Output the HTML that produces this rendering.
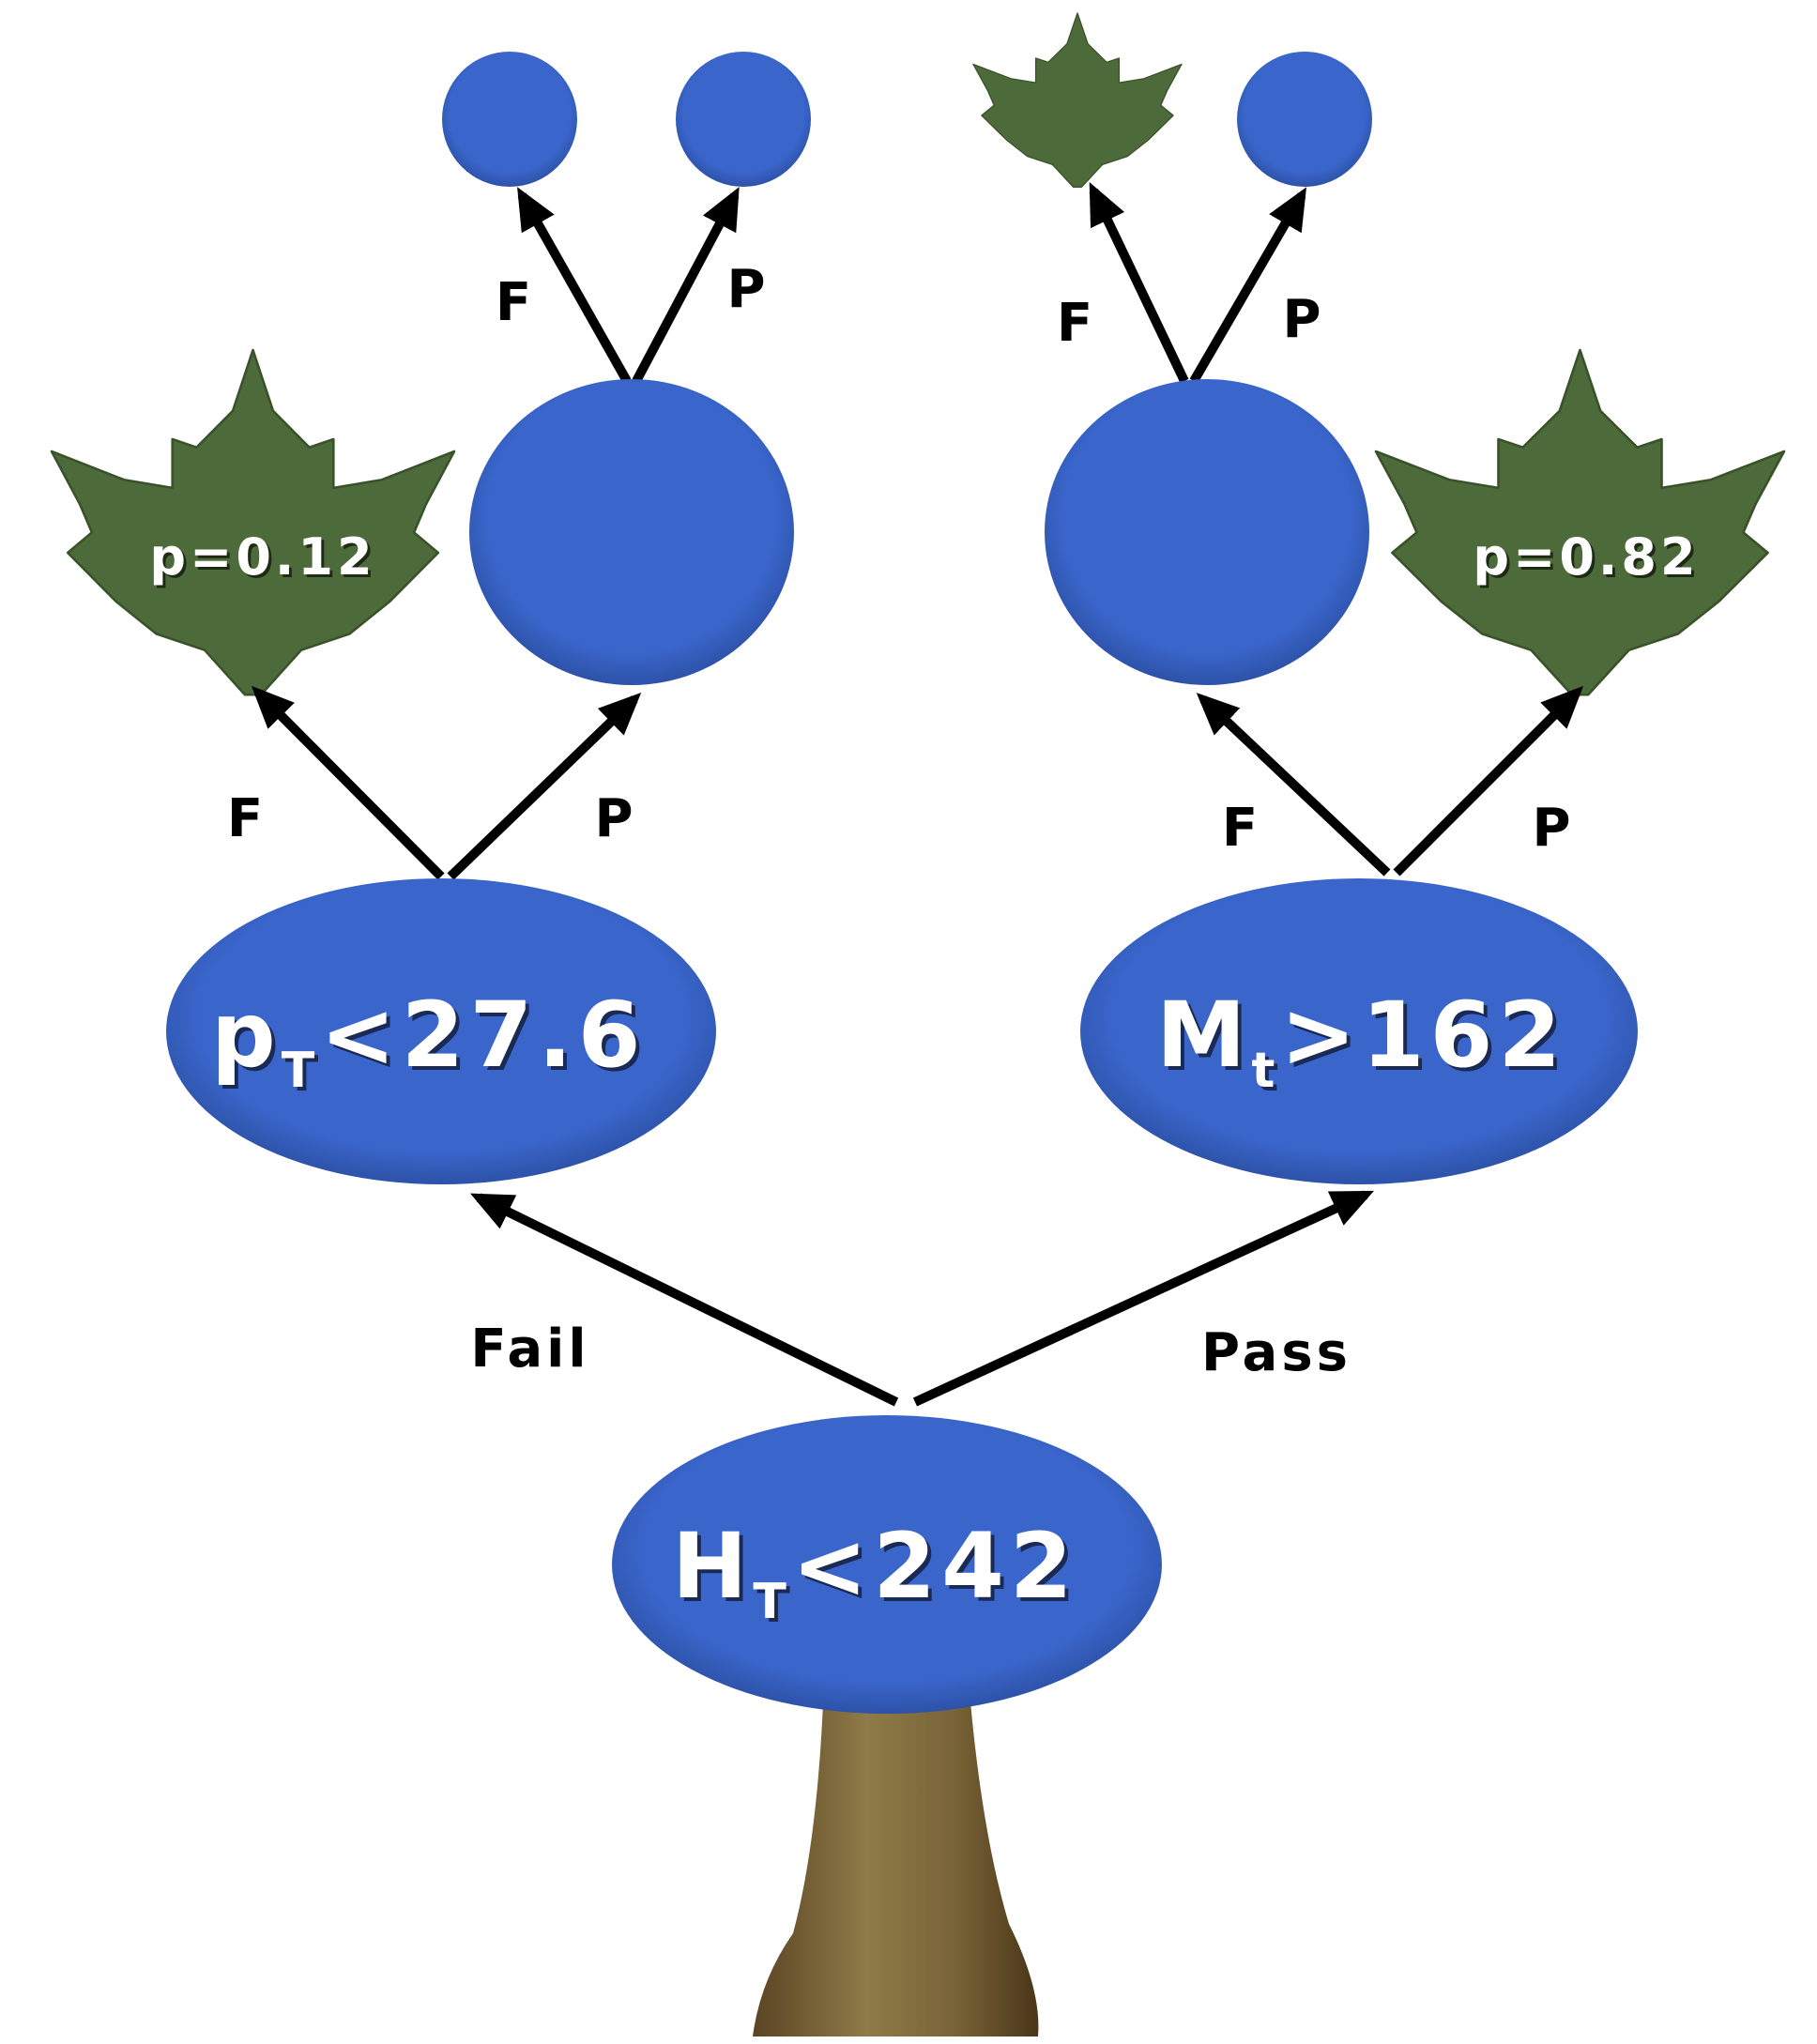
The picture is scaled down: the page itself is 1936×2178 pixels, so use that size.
<!DOCTYPE html>
<html><head><meta charset="utf-8"><style>
html,body{margin:0;padding:0;background:#fff;}
svg{display:block;}
text{font-family:"DejaVu Sans","Liberation Sans",sans-serif;font-weight:bold;}
.n{fill:#fff;letter-spacing:6px;}
.l{fill:#000;font-size:56px;letter-spacing:4px;}
</style></head><body>
<svg width="1936" height="2178" viewBox="0 0 1936 2178" xmlns="http://www.w3.org/2000/svg">
<defs>
<marker id="a" markerWidth="4.5" markerHeight="4" refX="3.5" refY="2" orient="auto" markerUnits="strokeWidth">
<path d="M0,0 L4.5,2 L0,4 z" fill="#000"/></marker>
<radialGradient id="b" cx="50%" cy="45%" r="55%"><stop offset="0.8" stop-color="#3a66cc"/><stop offset="1" stop-color="#2d52a8"/></radialGradient>
<linearGradient id="t" x1="0" x2="1"><stop offset="0" stop-color="#5a4423"/><stop offset="0.4" stop-color="#8f7a48"/><stop offset="0.7" stop-color="#7a6438"/><stop offset="1" stop-color="#4a3618"/></linearGradient>
<polygon id="leaf" points="50,0 55,15 64,24 70,22 70,34 82,32 100,25 93,38 90,45 96,50 84,62 74,70 62,74 52,85 48,85 38,74 26,70 16,62 4,50 10,45 7,38 0,25 18,32 30,34 30,22 36,24 45,15" fill="#4d6b3a" stroke="#3a5229" stroke-width="0.6" stroke-linejoin="round"/>
</defs>
<!-- trunk -->
<path d="M878,1790 L1032,1790 Q1045,1950 1075,2050 Q1110,2120 1106,2170 L802,2170 Q810,2110 845,2060 Q872,1960 878,1790 z" fill="url(#t)"/>
<!-- leaves -->
<use href="#leaf" transform="translate(55,373) scale(4.29,4.32)"/>
<use href="#leaf" transform="translate(1466,373) scale(4.35,4.32)"/>
<use href="#leaf" transform="translate(1037,14) scale(2.22,2.18)"/>
<!-- arrows -->
<g stroke="#000" stroke-width="10" fill="none" marker-end="url(#a)">
<line x1="955" y1="1494" x2="510" y2="1276"/>
<line x1="975" y1="1494" x2="1455" y2="1273"/>
<line x1="470" y1="934" x2="275" y2="738"/>
<line x1="480" y1="934" x2="676" y2="745"/>
<line x1="1478" y1="930" x2="1282" y2="745"/>
<line x1="1488" y1="930" x2="1680" y2="738"/>
<line x1="668" y1="406" x2="556" y2="208"/>
<line x1="678" y1="406" x2="783" y2="208"/>
<line x1="1262" y1="406" x2="1165" y2="203"/>
<line x1="1272" y1="406" x2="1387" y2="208"/>
</g>
<!-- nodes -->
<g fill="url(#b)">
<ellipse cx="945" cy="1667" rx="293" ry="159"/>
<ellipse cx="470" cy="1099" rx="293" ry="163"/>
<ellipse cx="1448" cy="1099" rx="297" ry="163"/>
<ellipse cx="673" cy="567" rx="173" ry="163"/>
<ellipse cx="1286" cy="567" rx="173" ry="163"/>
<circle cx="543" cy="127" r="72"/>
<circle cx="792" cy="127" r="72"/>
<circle cx="1390" cy="127" r="72"/>
</g>
<!-- node text -->
<g class="n" style="font-size:96px">
<text x="225" y="1136" fill="#1a2a55" transform="translate(4,4)">p<tspan font-size="52" dy="22">T</tspan><tspan dy="-22">&lt;27.6</tspan></text>
<text x="225" y="1136">p<tspan font-size="52" dy="22">T</tspan><tspan dy="-22">&lt;27.6</tspan></text>
<text x="1232" y="1136" fill="#1a2a55" transform="translate(4,4)">M<tspan font-size="52" dy="22">t</tspan><tspan dy="-22">&gt;162</tspan></text>
<text x="1232" y="1136">M<tspan font-size="52" dy="22">t</tspan><tspan dy="-22">&gt;162</tspan></text>
<text x="716" y="1702" fill="#1a2a55" transform="translate(4,4)">H<tspan font-size="52" dy="22">T</tspan><tspan dy="-22">&lt;242</tspan></text>
<text x="716" y="1702">H<tspan font-size="52" dy="22">T</tspan><tspan dy="-22">&lt;242</tspan></text>
</g>
<g class="n" style="font-size:54px;letter-spacing:4px" text-anchor="middle">
<text x="280" y="612" fill="#1e2a14" transform="translate(3,3)">p=0.12</text>
<text x="280" y="612">p=0.12</text>
<text x="1690" y="612" fill="#1e2a14" transform="translate(3,3)">p=0.82</text>
<text x="1690" y="612">p=0.82</text>
</g>
<!-- edge labels -->
<g class="l" text-anchor="middle">
<text x="549" y="341">F</text>
<text x="797" y="327">P</text>
<text x="1147" y="363">F</text>
<text x="1389" y="359">P</text>
<text x="263" y="891">F</text>
<text x="656" y="891">P</text>
<text x="1323" y="901">F</text>
<text x="1655" y="901">P</text>
<text x="565" y="1456">Fail</text>
<text x="1360" y="1460">Pass</text>
</g>
</svg>
</body></html>
